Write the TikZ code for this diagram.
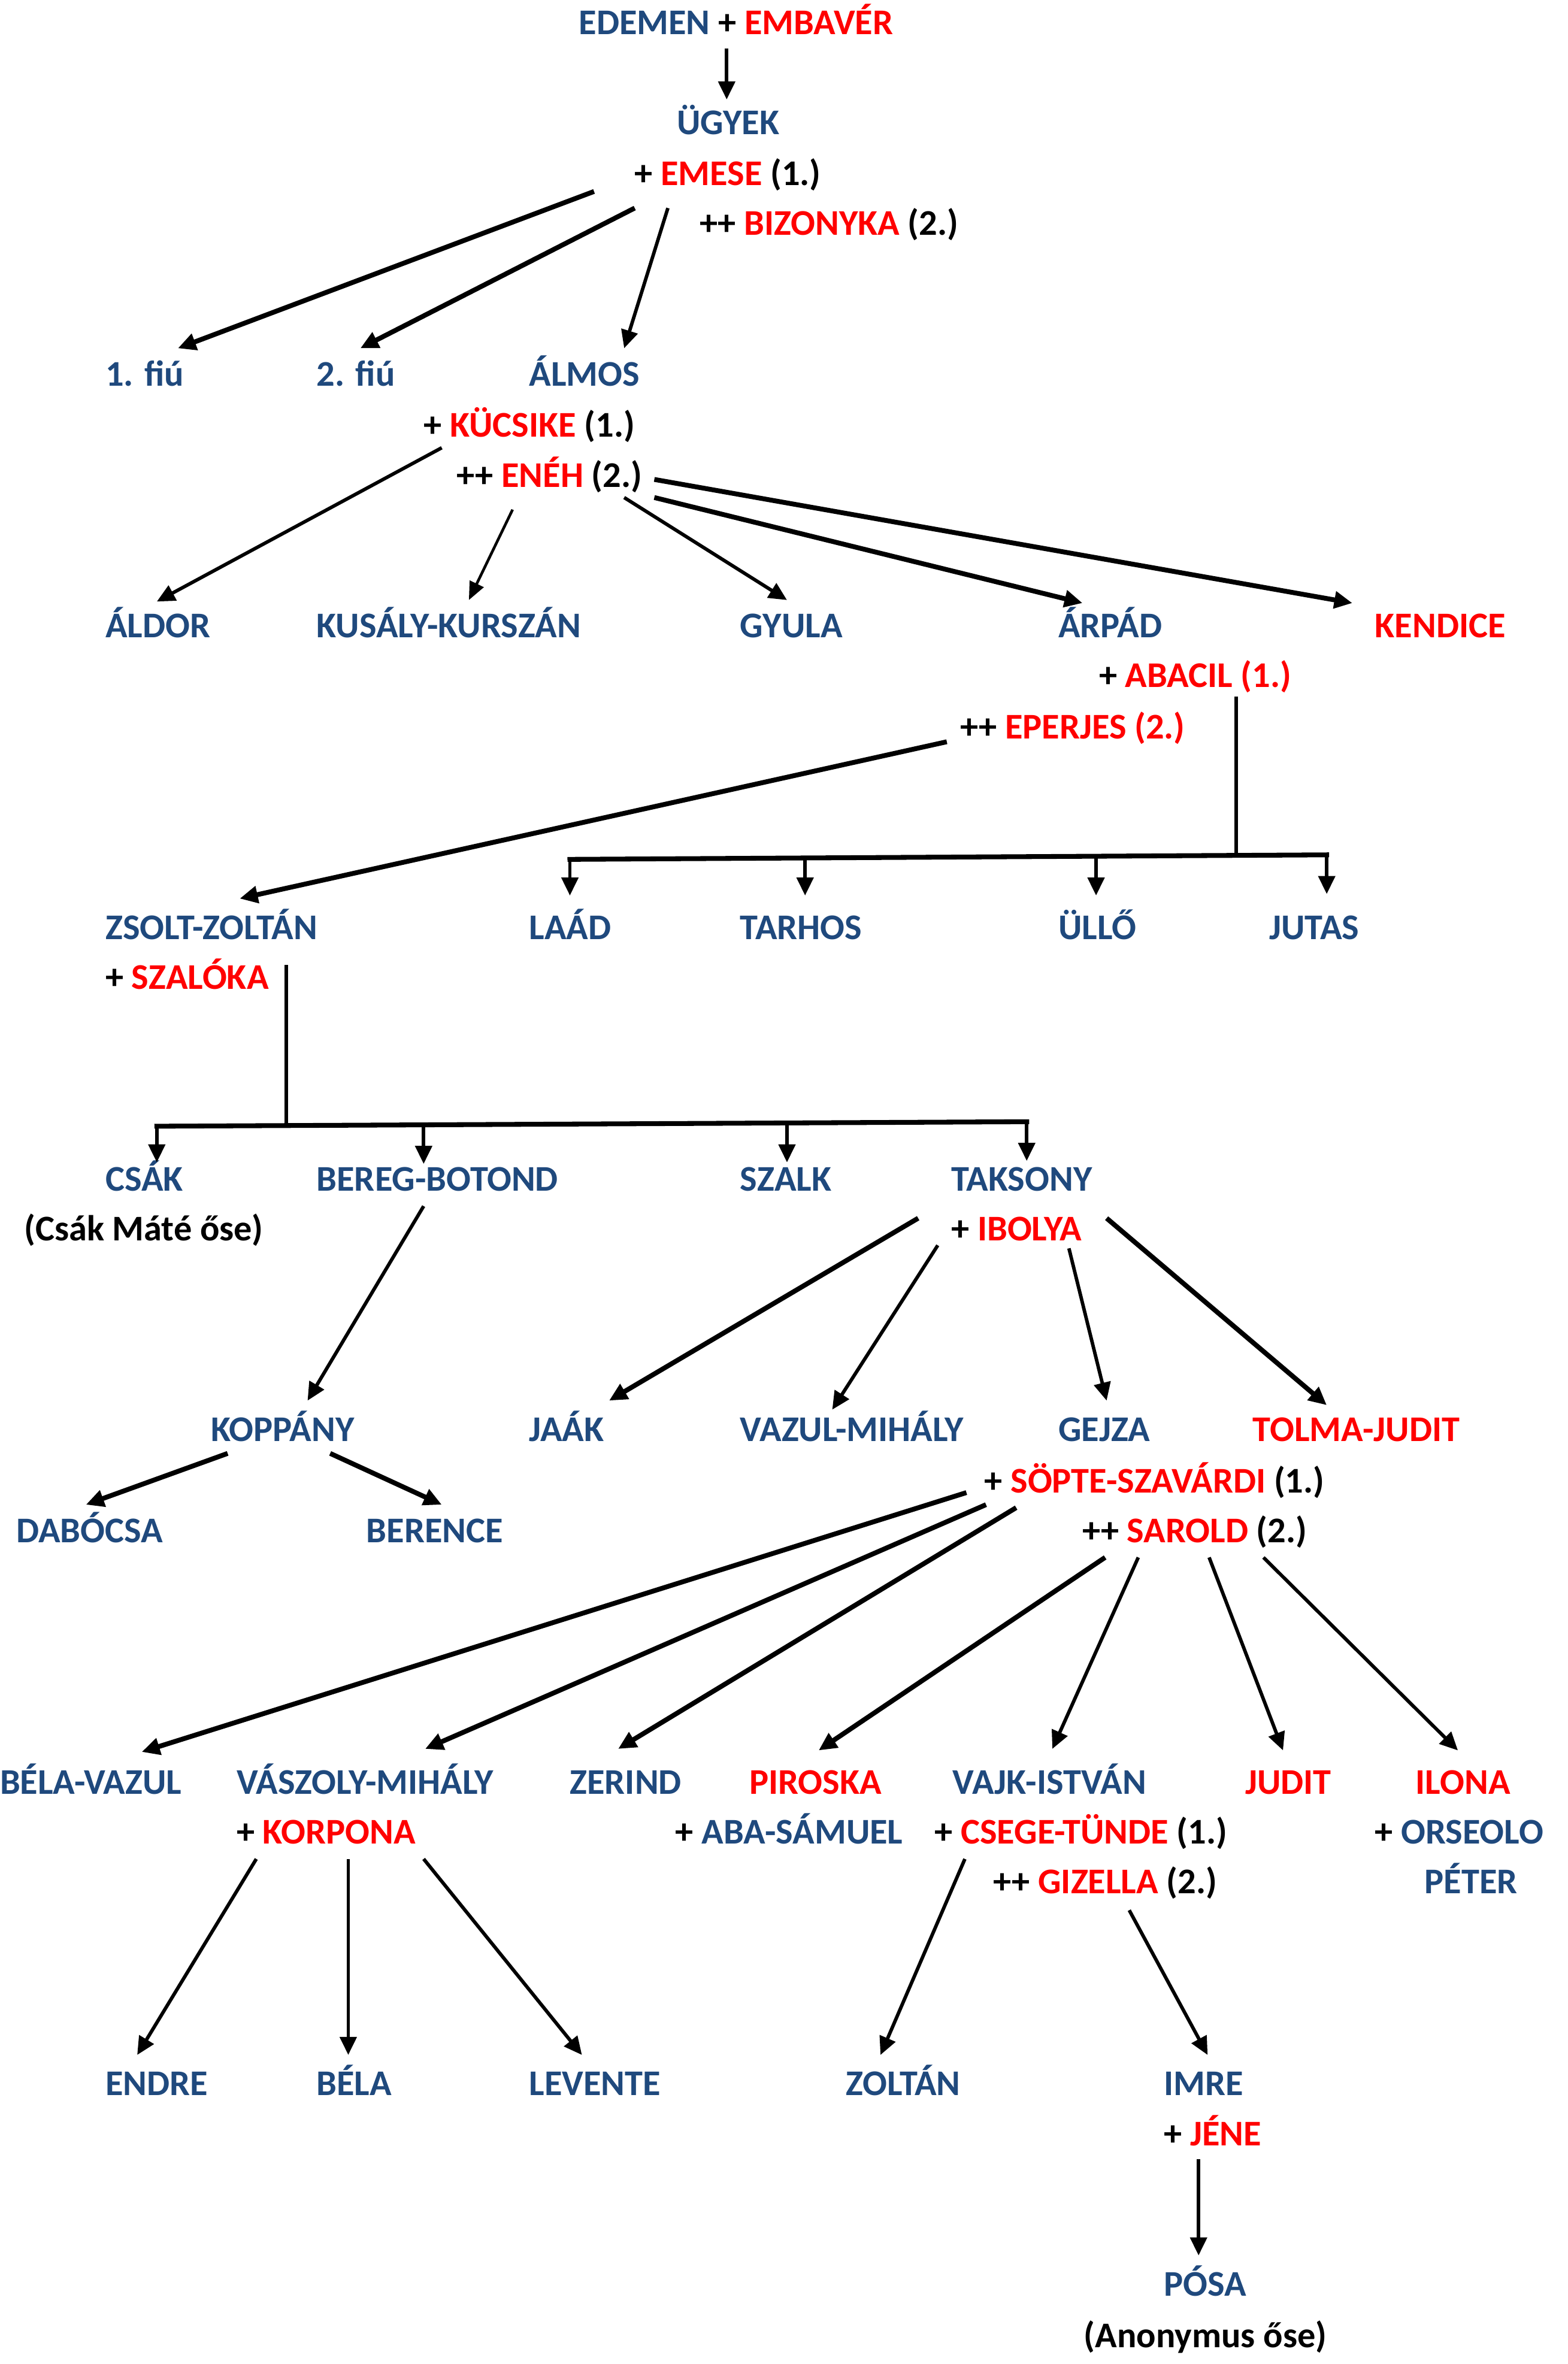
\documentclass[tikz,border=0pt]{standalone}
\usepackage{fontspec}
\setmainfont{Carlito}[BoldFont={Carlito Bold}]
\usetikzlibrary{arrows.meta}
\definecolor{nblue}{HTML}{1F497D}
\definecolor{nred}{HTML}{FF0000}
\newcommand{\tb}[1]{\textcolor{nblue}{#1}}
\newcommand{\tr}[1]{\textcolor{nred}{#1}}
\tikzset{
  txt/.style={anchor=base west, inner sep=0pt, outer sep=0pt, font=\fontsize{24}{24}\selectfont\bfseries, text=black, yshift=-1pt},
  lnk/.style={line width=2.3pt, -{Triangle[length=12pt,width=11pt]}},
  lnkthick/.style={line width=3.2pt, -{Triangle[length=12pt,width=11pt]}},
  lnkthin/.style={line width=1.8pt, -{Triangle[length=12pt,width=10pt]}},
  bar/.style={line width=3.2pt},
  stem/.style={line width=2.4pt}
}
\begin{document}
\begin{tikzpicture}[x=1pt,y=-1pt]
\useasboundingbox (0,0) rectangle (1040,1568);
\fill[white] (0,0) rectangle (1040,1568);
% ---------- text nodes (left x, baseline y) ----------
\node[txt] (edemen) at (384,22) {\tb{EDEMEN} + \tr{EMBAVÉR}};
\node[txt] (ugyek) at (449,88) {\tb{ÜGYEK}};
\node[txt] (emese) at (421,122) {+ \tr{EMESE} (1.)};
\node[txt] (bizonyka) at (464,155) {++ \tr{BIZONYKA} (2.)};
\node[txt] (fiu1) at (70,255) {\tb{1. fiú}};
\node[txt] (fiu2) at (210,255) {\tb{2. fiú}};
\node[txt] (almos) at (351,255) {\tb{ÁLMOS}};
\node[txt] (kucsike) at (281,289) {+ \tr{KÜCSIKE} (1.)};
\node[txt] (eneh) at (303,322) {++ \tr{ENÉH} (2.)};
\node[txt] (aldor) at (70,422) {\tb{ÁLDOR}};
\node[txt] (kusaly) at (210,422) {\tb{KUSÁLY-KURSZÁN}};
\node[txt] (gyula) at (491,422) {\tb{GYULA}};
\node[txt] (arpad) at (702,422) {\tb{ÁRPÁD}};
\node[txt] (kendice) at (912,422) {\tr{KENDICE}};
\node[txt] (abacil) at (729,455) {+ \tr{ABACIL (1.)}};
\node[txt] (eperjes) at (637,489) {++ \tr{EPERJES (2.)}};
\node[txt] (zsolt) at (70,622) {\tb{ZSOLT-ZOLTÁN}};
\node[txt] (laad) at (351,622) {\tb{LAÁD}};
\node[txt] (tarhos) at (491,622) {\tb{TARHOS}};
\node[txt] (ullo) at (702,622) {\tb{ÜLLŐ}};
\node[txt] (jutas) at (842,622) {\tb{JUTAS}};
\node[txt] (szaloka) at (70,655) {+ \tr{SZALÓKA}};
\node[txt] (csak) at (70,789) {\tb{CSÁK}};
\node[txt] (bereg) at (210,789) {\tb{BEREG-BOTOND}};
\node[txt] (szalk) at (491,789) {\tb{SZALK}};
\node[txt] (taksony) at (631,789) {\tb{TAKSONY}};
\node[txt] (csakmate) at (16,822) {(Csák Máté őse)};
\node[txt] (ibolya) at (631,822) {+ \tr{IBOLYA}};
\node[txt] (koppany) at (140,955) {\tb{KOPPÁNY}};
\node[txt] (jaak) at (351,955) {\tb{JAÁK}};
\node[txt] (vazul) at (491,955) {\tb{VAZUL-MIHÁLY}};
\node[txt] (gejza) at (702,955) {\tb{GEJZA}};
\node[txt] (tolma) at (831,955) {\tr{TOLMA-JUDIT}};
\node[txt] (sopte) at (653,989) {+ \tr{SÖPTE-SZAVÁRDI} (1.)};
\node[txt] (dabocsa) at (11,1022) {\tb{DABÓCSA}};
\node[txt] (berence) at (243,1022) {\tb{BERENCE}};
\node[txt] (sarold) at (718,1022) {++ \tr{SAROLD} (2.)};
\node[txt] (belavazul) at (0,1189) {\tb{BÉLA-VAZUL}};
\node[txt] (vaszoly) at (157,1189) {\tb{VÁSZOLY-MIHÁLY}};
\node[txt] (zerind) at (378,1189) {\tb{ZERIND}};
\node[txt] (piroska) at (497,1189) {\tr{PIROSKA}};
\node[txt] (vajk) at (632,1189) {\tb{VAJK-ISTVÁN}};
\node[txt] (judit) at (826,1189) {\tr{JUDIT}};
\node[txt] (ilona) at (939,1189) {\tr{ILONA}};
\node[txt] (korpona) at (157,1222) {+ \tr{KORPONA}};
\node[txt] (aba) at (448,1222) {+ \tb{ABA-SÁMUEL}};
\node[txt] (csege) at (620,1222) {+ \tr{CSEGE-TÜNDE} (1.)};
\node[txt] (orseolo) at (912,1222) {+ \tb{ORSEOLO}};
\node[txt] (gizella) at (659,1255) {++ \tr{GIZELLA} (2.)};
\node[txt] (peter) at (945,1255) {\tb{PÉTER}};
\node[txt] (endre) at (70,1389) {\tb{ENDRE}};
\node[txt] (bela) at (210,1389) {\tb{BÉLA}};
\node[txt] (levente) at (351,1389) {\tb{LEVENTE}};
\node[txt] (zoltan) at (561,1389) {\tb{ZOLTÁN}};
\node[txt] (imre) at (772,1389) {\tb{IMRE}};
\node[txt] (jene) at (772,1422) {+ \tr{JÉNE}};
\node[txt] (posa) at (772,1522) {\tb{PÓSA}};
\node[txt] (anonymus) at (719,1556) {(Anonymus őse)};
% ---------- connector end points ----------
\coordinate (s0) at (482,32);   \coordinate (e0) at (482,66);
\coordinate (s1) at (394,127);  \coordinate (e1) at (118,231);
\coordinate (s2) at (421,138);  \coordinate (e2) at (239,231);
\coordinate (s3) at (443,138);  \coordinate (e3) at (414,231);
\coordinate (s4) at (293,297);  \coordinate (e4) at (104,399);
\coordinate (s5) at (340,338);  \coordinate (e5) at (311,398);
\coordinate (s6) at (414,330);  \coordinate (e6) at (522,398);
\coordinate (s7) at (434,330);  \coordinate (e7) at (718,400);
\coordinate (s8) at (434,318);  \coordinate (e8) at (897,400);
\coordinate (s9) at (628,492);  \coordinate (e9) at (159,596);
\coordinate (ab0) at (820,462); \coordinate (ab1) at (820,568);
\coordinate (abL) at (378,570); \coordinate (abR) at (880,567);
\coordinate (b1) at (534,569);  \coordinate (b2) at (727,568);
\coordinate (laadT) at (378,594); \coordinate (tarhosT) at (534,594);
\coordinate (ulloT) at (727,594); \coordinate (jutasT) at (880,593);
\coordinate (zs0) at (190,640); \coordinate (zs1) at (190,746);
\coordinate (zsL) at (104,747); \coordinate (zsR) at (681,744);
\coordinate (c1) at (281,746);  \coordinate (c2) at (522,745);
\coordinate (csakT) at (104,771); \coordinate (beregT) at (281,772);
\coordinate (szalkT) at (522,771); \coordinate (taksonyT) at (681,770);
\coordinate (sb) at (281,800);  \coordinate (eb) at (204,929);
\coordinate (st1) at (609,808); \coordinate (et1) at (404,929);
\coordinate (st2) at (622,826); \coordinate (et2) at (552,935);
\coordinate (st3) at (709,828); \coordinate (et3) at (734,929);
\coordinate (st4) at (734,808); \coordinate (et4) at (880,932);
\coordinate (sk1) at (151,964); \coordinate (ek1) at (57,998);
\coordinate (sk2) at (219,964); \coordinate (ek2) at (293,998);
\coordinate (sg1) at (641,990); \coordinate (eg1) at (94,1162);
\coordinate (sg2) at (654,998); \coordinate (eg2) at (282,1160);
\coordinate (sg3) at (674,1000); \coordinate (eg3) at (410,1160);
\coordinate (sg4) at (733,1033); \coordinate (eg4) at (543,1161);
\coordinate (sg5) at (755,1033); \coordinate (eg5) at (698,1160);
\coordinate (sg6) at (802,1033); \coordinate (eg6) at (851,1161);
\coordinate (sg7) at (838,1033); \coordinate (eg7) at (967,1161);
\coordinate (sv1) at (170,1233); \coordinate (ev1) at (91,1363);
\coordinate (sv2) at (231,1233); \coordinate (ev2) at (231,1363);
\coordinate (sv3) at (281,1233); \coordinate (ev3) at (386,1363);
\coordinate (sc1) at (640,1233); \coordinate (ec1) at (584,1363);
\coordinate (sc2) at (749,1267); \coordinate (ec2) at (801,1363);
\coordinate (sj) at (795,1432);  \coordinate (ej) at (795,1496);
% ---------- connectors ----------
\draw[lnk] (s0) -- (e0);
\draw[lnkthick] (s1) -- (e1);
\draw[lnkthick] (s2) -- (e2);
\draw[lnk] (s3) -- (e3);
\draw[lnk] (s4) -- (e4);
\draw[lnkthin] (s5) -- (e5);
\draw[lnk] (s6) -- (e6);
\draw[lnkthick] (s7) -- (e7);
\draw[lnkthick] (s8) -- (e8);
\draw[lnkthick] (s9) -- (e9);
\draw[stem] (ab0) -- (ab1);
\draw[bar, line cap=rect] (abL) -- (abR);
\draw[lnk] (abL) -- (laadT);
\draw[lnk] (b1) -- (tarhosT);
\draw[lnk] (b2) -- (ulloT);
\draw[lnk] (abR) -- (jutasT);
\draw[stem] (zs0) -- (zs1);
\draw[bar, line cap=rect] (zsL) -- (zsR);
\draw[lnk] (zsL) -- (csakT);
\draw[lnk] (c1) -- (beregT);
\draw[lnk] (c2) -- (szalkT);
\draw[lnk] (zsR) -- (taksonyT);
\draw[lnk] (sb) -- (eb);
\draw[lnkthick] (st1) -- (et1);
\draw[lnk] (st2) -- (et2);
\draw[lnk] (st3) -- (et3);
\draw[lnkthick] (st4) -- (et4);
\draw[lnkthick] (sk1) -- (ek1);
\draw[lnkthick] (sk2) -- (ek2);
\draw[lnkthick] (sg1) -- (eg1);
\draw[lnkthick] (sg2) -- (eg2);
\draw[lnkthick] (sg3) -- (eg3);
\draw[lnkthick] (sg4) -- (eg4);
\draw[lnk] (sg5) -- (eg5);
\draw[lnk] (sg6) -- (eg6);
\draw[lnk] (sg7) -- (eg7);
\draw[lnk] (sv1) -- (ev1);
\draw[lnk] (sv2) -- (ev2);
\draw[lnk] (sv3) -- (ev3);
\draw[lnk] (sc1) -- (ec1);
\draw[lnk] (sc2) -- (ec2);
\draw[lnk] (sj) -- (ej);
\end{tikzpicture}
\end{document}
